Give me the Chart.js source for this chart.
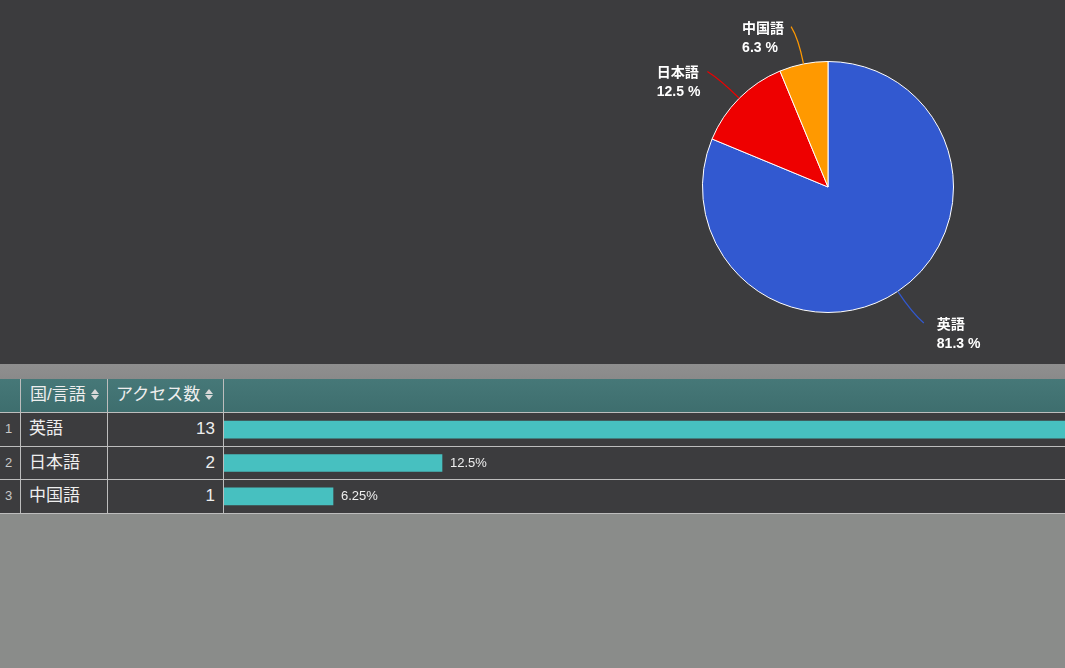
<!DOCTYPE html>
<html>
<head>
<meta charset="utf-8">
<script src="https://cdn.jsdelivr.net/npm/chart.js@4"></script>
<style>
  body { margin: 0; width: 1065px; height: 668px; overflow: hidden; background: #8a8c8a; font-family: "Liberation Sans", "Noto Sans CJK JP", sans-serif; }
  #top { position: absolute; left: 0; top: 0; width: 1065px; height: 364px; background: #3c3c3e; }
  #band { position: absolute; left: 0; top: 364px; width: 1065px; height: 15px; background: linear-gradient(#8f8f8f, #8a8a8a); }
  .cell { position: absolute; box-sizing: border-box; color: #eee; font-size: 17px; line-height: 32px; white-space: nowrap; }
  .hd { background: linear-gradient(#467878, #3e6e6e); }
  .row { background: #3c3c3e; }
  .hl { position: absolute; left: 0; width: 1065px; height: 1px; background: #bdbdbd; }
  .vl { position: absolute; width: 1px; top: 379px; height: 135px; background: #bdbdbd; }
  .num { font-size: 13px; color: #c8c8c8; }
  .sort { display: inline-block; width: 8px; height: 12px; position: relative; top: 1px; margin-left: 5px; }
  .sort:before, .sort:after { content: ""; position: absolute; left: 0; border-left: 4px solid transparent; border-right: 4px solid transparent; }
  .sort:before { top: 0; border-bottom: 5px solid #d8d8d8; }
  .sort:after { top: 6px; border-top: 5px solid #d8d8d8; }
  #pie { position: absolute; left: 0; top: 0; }
  #bars { position: absolute; left: 224px; top: 413px; }
</style>
</head>
<body>
<div id="top"><canvas id="pie" width="1065" height="364"></canvas></div>
<div id="band"></div>
<div id="table"></div>
<canvas id="bars" width="841" height="100"></canvas>
<script>
var languages = ['英語', '日本語', '中国語']
var accessCounts = [13, 2, 1]
var pieLabels = ['81.3 %', '12.5 %', '6.3 %']
var barLabels = ['81.25%', '12.5%', '6.25%']
var pieColors = ['#3259d0', '#ee0000', '#ff9900']

// table cells (header + rows)
var table = document.getElementById('table')
function cell(x, y, w, h, cls, html, align) {
    var d = document.createElement('div')
    d.className = 'cell ' + cls
    d.style.left = x + 'px'; d.style.top = y + 'px'
    d.style.width = w + 'px'; d.style.height = h + 'px'
    if (align) d.style.textAlign = align
    d.innerHTML = html
    table.appendChild(d)
}
cell(0, 379, 1065, 33, 'hd', '')
cell(30, 379, 80, 33, '', '国/言語<span class="sort"></span>')
cell(116, 379, 110, 33, '', 'アクセス数<span class="sort"></span>')
var rowTops = [413, 447, 480]
var rowH = [33, 32, 33]
for (var i = 0; i < languages.length; i++) {
    cell(0, rowTops[i], 1065, rowH[i], 'row', '')
    cell(5, rowTops[i], 14, rowH[i], 'num', String(i + 1))
    cell(29, rowTops[i], 78, rowH[i], '', languages[i])
    cell(108, rowTops[i], 107, rowH[i], '', String(accessCounts[i]), 'right')
}
;[412, 446, 479, 513].forEach(function (y) {
    var l = document.createElement('div'); l.className = 'hl'; l.style.top = y + 'px'; table.appendChild(l)
})
;[20, 107, 223].forEach(function (x) {
    var l = document.createElement('div'); l.className = 'vl'; l.style.left = x + 'px'; table.appendChild(l)
})

// leader lines + labels around the pie
var pieLabelPlugin = {
    id: 'pieLabels',
    afterDatasetsDraw: function (chart) {
        var ctx = chart.ctx
        var meta = chart.getDatasetMeta(0)
        meta.data.forEach(function (arc, i) {
            var mid = (arc.startAngle + arc.endAngle) / 2
            var cx = arc.x, cy = arc.y, r = arc.outerRadius
            var dx = Math.cos(mid), dy = Math.sin(mid)
            var side = dx >= 0 ? 1 : -1
            var sx = cx + dx * r, sy = cy + dy * r
            var c1x = cx + dx * (r + 26), c1y = cy + dy * (r + 26)
            var ex = cx + dx * (r + 38) + side * 5, ey = cy + dy * (r + 38)
            ctx.save()
            ctx.strokeStyle = pieColors[i]
            ctx.lineWidth = 1.2
            ctx.beginPath()
            ctx.moveTo(sx, sy)
            ctx.quadraticCurveTo(c1x, c1y, ex, ey)
            ctx.stroke()
            ctx.fillStyle = '#ffffff'
            ctx.font = 'bold 14px "Liberation Sans", "Noto Sans CJK JP", sans-serif'
            ctx.textBaseline = 'middle'
            var tw = Math.max(ctx.measureText(languages[i]).width, ctx.measureText(pieLabels[i]).width)
            var tx = side > 0 ? ex + 13 : ex - 7 - tw
            ctx.textAlign = 'left'
            ctx.fillText(languages[i], tx, ey + 2)
            ctx.fillText(pieLabels[i], tx, ey + 21)
            ctx.restore()
        })
    }
}

new Chart(document.getElementById('pie').getContext('2d'), {
    type: 'pie',
    data: {
        labels: languages,
        datasets: [{
            data: accessCounts,
            backgroundColor: pieColors,
            borderColor: '#ffffff',
            borderWidth: 1
        }]
    },
    options: {
        responsive: false,
        animation: false,
        layout: { padding: { left: 702, right: 111, top: 61, bottom: 51 } },
        plugins: { legend: { display: false }, tooltip: { enabled: false } }
    },
    plugins: [pieLabelPlugin]
})

// percentage text after each bar
var barLabelPlugin = {
    id: 'barLabels',
    afterDatasetsDraw: function (chart) {
        var ctx = chart.ctx
        chart.getDatasetMeta(0).data.forEach(function (bar, i) {
            ctx.save()
            ctx.fillStyle = '#eeeeee'
            ctx.font = '13px "Liberation Sans", sans-serif'
            ctx.textBaseline = 'middle'
            ctx.fillText(barLabels[i], bar.x + 8, bar.y)
            ctx.restore()
        })
    }
}

new Chart(document.getElementById('bars').getContext('2d'), {
    type: 'bar',
    data: {
        labels: languages,
        datasets: [{
            data: accessCounts,
            backgroundColor: '#47c0c0',
            barThickness: 17
        }]
    },
    options: {
        indexAxis: 'y',
        responsive: false,
        animation: false,
        layout: { padding: 0 },
        scales: {
            x: { display: false, min: 0, max: 841 / 109 },
            y: { display: false }
        },
        plugins: { legend: { display: false }, tooltip: { enabled: false } }
    },
    plugins: [barLabelPlugin]
})
</script>
</body>
</html>
